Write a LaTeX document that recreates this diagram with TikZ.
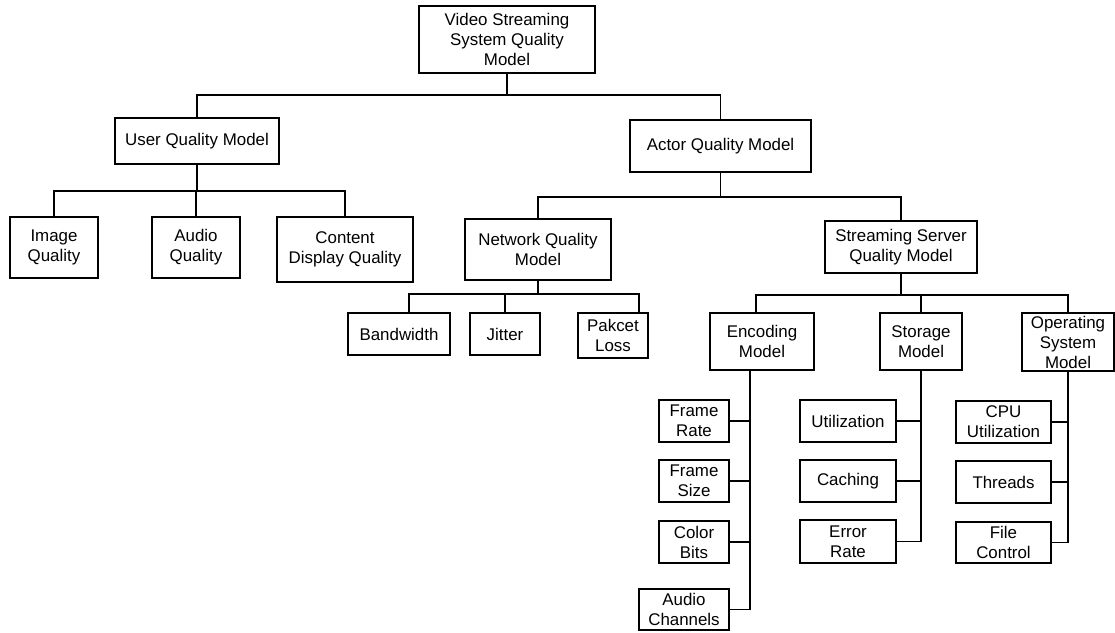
\documentclass[tikz,border=0pt]{standalone}
\usepackage{fontspec}
\setmainfont{Liberation Sans}
\begin{document}
\begin{tikzpicture}[x=1pt,y=-1pt,
  every node/.style={font=\fontsize{16.9}{20}\selectfont},
  qbox/.style={draw, line width=1.5pt, rectangle, inner sep=0pt, align=center},
  link/.style={line width=1.5pt}]
\useasboundingbox (0,0) rectangle (1115,632);

% top level
\node[qbox, minimum width=176, minimum height=67] (root) at (507,39.5) {Video Streaming\\System Quality\\Model};
\node[qbox, minimum width=164, minimum height=46] (user) at (197,141) {User Quality Model};
\node[qbox, minimum width=181, minimum height=52] (actor) at (720.5,146) {Actor Quality Model};

% user quality branch
\node[qbox, minimum width=88, minimum height=61] (image) at (54,247.5) {Image\\Quality};
\node[qbox, minimum width=88, minimum height=61] (audio) at (196,247.5) {Audio\\Quality};
\node[qbox, minimum width=136, minimum height=65] (content) at (345,249.5) {Content\\Display Quality};

% actor quality branch
\node[qbox, minimum width=146, minimum height=61] (network) at (538,249.5) {Network Quality\\Model};
\node[qbox, minimum width=152, minimum height=52] (server) at (901,247) {Streaming Server\\Quality Model};

% network children
\node[qbox, minimum width=102, minimum height=42] (bandwidth) at (399,334) {Bandwidth};
\node[qbox, minimum width=70, minimum height=42] (jitter) at (505,334) {Jitter};
\node[qbox, minimum width=70, minimum height=45] (pakcet) at (613,335.5) {Pakcet\\Loss};

% server children
\node[qbox, minimum width=104, minimum height=57] (encoding) at (762,341.5) {Encoding\\Model};
\node[qbox, minimum width=82, minimum height=57] (storage) at (921,341.5) {Storage\\Model};
\node[qbox, minimum width=92, minimum height=58] (os) at (1068,342) {Operating\\System\\Model};

% encoding children
\node[qbox, minimum width=70, minimum height=42] (framerate) at (694,421) {Frame\\Rate};
\node[qbox, minimum width=70, minimum height=42] (framesize) at (694,481) {Frame\\Size};
\node[qbox, minimum width=70, minimum height=42] (colorbits) at (694,542) {Color\\Bits};
\node[qbox, minimum width=90, minimum height=41] (audioch) at (684,609.5) {Audio\\Channels};

% storage children
\node[qbox, minimum width=96, minimum height=42] (utilization) at (848,421) {Utilization};
\node[qbox, minimum width=96, minimum height=42] (caching) at (848,481) {Caching};
\node[qbox, minimum width=96, minimum height=43] (errorrate) at (848,541.5) {Error\\Rate};

% operating system children
\node[qbox, minimum width=95, minimum height=42] (cpu) at (1003.5,422) {CPU\\Utilization};
\node[qbox, minimum width=95, minimum height=42] (threads) at (1003.5,482) {Threads};
\node[qbox, minimum width=95, minimum height=41] (filecontrol) at (1003.5,542.5) {File\\Control};

% tree connectors
\draw[link] (root.south) -- ++(0,21) coordinate (rb);
\draw[link] (user.north) |- (rb) -| (actor.north);

\draw[link] (user.south) -- ++(0,26) coordinate (ub);
\draw[link] (image.north) |- (ub) -| (content.north);
\draw[link] (audio.north) -- (audio.north |- ub);

\draw[link] (actor.south) -- ++(0,24) coordinate (ab);
\draw[link] (network.north) |- (ab) -| (server.north);

\coordinate (bwtop) at ([xshift=10pt]bandwidth.north);
\coordinate (pltop) at ([xshift=26pt]pakcet.north);
\draw[link] (network.south) -- ++(0,13) coordinate (nb);
\draw[link] (bwtop) |- (nb) -| (pltop);
\draw[link] (jitter.north) -- (jitter.north |- nb);

\coordinate (enctop) at ([xshift=-6pt]encoding.north);
\draw[link] (server.south) -- ++(0,21) coordinate (sb);
\draw[link] (enctop) |- (sb) -| (os.north);
\draw[link] (storage.north) -- (storage.north |- sb);

% vertical spines with side branches
\coordinate (es) at ([xshift=-12pt]encoding.south);
\draw[link] (es) |- (audioch.east);
\draw[link] (framerate.east) -- (framerate.east -| es);
\draw[link] (framesize.east) -- (framesize.east -| es);
\draw[link] (colorbits.east) -- (colorbits.east -| es);

\draw[link] (storage.south) |- (errorrate.east);
\draw[link] (utilization.east) -- (utilization.east -| storage.south);
\draw[link] (caching.east) -- (caching.east -| storage.south);

\draw[link] (os.south) |- (filecontrol.east);
\draw[link] (cpu.east) -- (cpu.east -| os.south);
\draw[link] (threads.east) -- (threads.east -| os.south);
\end{tikzpicture}
\end{document}
